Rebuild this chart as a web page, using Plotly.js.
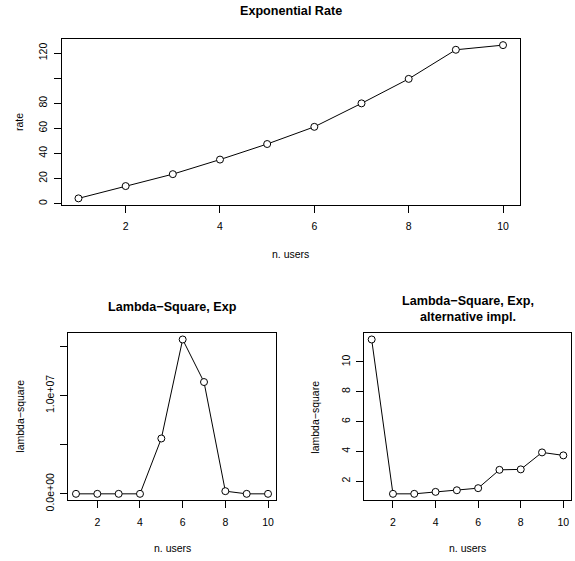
<!DOCTYPE html>
<html>
<head>
<meta charset="utf-8">
<script src="https://cdn.plot.ly/plotly-3.0.1.min.js"></script>
<style>html,body{margin:0;padding:0;background:#fff;}#chart{width:575px;height:561px;}</style>
</head>
<body>
<div id="chart"></div>
<script>
// ---- data ----
const users = [1, 2, 3, 4, 5, 6, 7, 8, 9, 10];
const rate = [4.2, 14.0, 23.5, 35.1, 47.5, 61.2, 79.9, 99.4, 122.6, 126.3];
const lambdaSqExp = [0, 0, 0, 0, 5.63e6, 15.70e6, 11.37e6, 0.27e6, 0, 0];
const lambdaSqAlt = [11.51, 1.15, 1.15, 1.28, 1.39, 1.53, 2.76, 2.79, 3.93, 3.73];

const xTickVals = [2, 4, 6, 8, 10];
const xTickText = ["2", "4", "6", "8", "10"];
const rateTickVals = [0, 20, 40, 60, 80, 100, 120];
const rateTickText = ["0", "20", "40", "60", "80", "", "120"];
const expTickVals = [0, 5e6, 1e7, 1.5e7];
const expTickText = ["0.0e+00", "", "1.0e+07", ""];
const altTickVals = [2, 4, 6, 8, 10];
const altTickText = ["2", "4", "6", "8", "10"];

const titleTop = "Exponential Rate";
const titleLeft = "Lambda\u2212Square, Exp";
const titleRight = "Lambda\u2212Square, Exp,<br>alternative impl.";
const xLabel = "n. users";
const yLabelTop = "rate";
const yLabelBottom = "lambda\u2212square";

// ---- helpers ----
const W = 575, H = 561;
const FONT = "Liberation Sans, Arial, Helvetica, sans-serif";
function rng(a) {
  const mn = Math.min(...a), mx = Math.max(...a), d = mx - mn;
  return [mn - 0.04 * d, mx + 0.04 * d];
}
function px(x) { return x / W; }
function py(y) { return 1 - y / H; }

// panel boxes in pixels [left, right, top, bottom]
const boxTop = [61.5, 520, 39, 204.5];
const boxBL = [68.3, 275.7, 333.3, 500];
const boxBR = [364, 571, 333.3, 500];

function axisBase() {
  return {
    showline: true, mirror: true, linecolor: "black", linewidth: 1,
    ticks: "outside", ticklen: 7, tickwidth: 1, tickcolor: "black",
    showgrid: false, zeroline: false,
    tickfont: { family: FONT, size: 10.5, color: "black" },
    tickmode: "array"
  };
}
function xa(box, anchor) {
  return Object.assign(axisBase(), {
    domain: [px(box[0]), px(box[1])], anchor: anchor,
    range: rng(users), tickvals: xTickVals, ticktext: xTickText,
    ticklabelstandoff: 5
  });
}
function ya(box, anchor, data, tv, tt) {
  return Object.assign(axisBase(), {
    domain: [py(box[3]), py(box[2])], anchor: anchor,
    range: rng(data), tickvals: tv, ticktext: tt, tickangle: -90,
    ticklabelstandoff: 2
  });
}

function trace(y, xa_, ya_) {
  return {
    x: users, y: y, xaxis: xa_, yaxis: ya_, type: "scatter", mode: "lines+markers",
    line: { color: "black", width: 1 },
    marker: { symbol: "circle", size: 7, color: "white", line: { color: "black", width: 1 } },
    hoverinfo: "none", cliponaxis: false
  };
}

const data = [
  trace(rate, "x", "y"),
  trace(lambdaSqExp, "x2", "y2"),
  trace(lambdaSqAlt, "x3", "y3")
];

function ann(text, x, y, size, bold, angle) {
  return {
    text: bold ? "<b>" + text + "</b>" : text,
    xref: "paper", yref: "paper", x: px(x), y: py(y),
    xanchor: "center", yanchor: "middle", showarrow: false,
    textangle: angle || 0,
    font: { family: FONT, size: size, color: "black" }
  };
}
const cx = b => (b[0] + b[1]) / 2;
const cy = b => (b[2] + b[3]) / 2;

const layout = {
  width: W, height: H,
  margin: { l: 0, r: 0, t: 0, b: 0, pad: 0 },
  paper_bgcolor: "white", plot_bgcolor: "white",
  showlegend: false,
  xaxis: xa(boxTop, "y"),
  yaxis: ya(boxTop, "x", rate, rateTickVals, rateTickText),
  xaxis2: xa(boxBL, "y2"),
  yaxis2: ya(boxBL, "x2", lambdaSqExp, expTickVals, expTickText),
  xaxis3: xa(boxBR, "y3"),
  yaxis3: ya(boxBR, "x3", lambdaSqAlt, altTickVals, altTickText),
  annotations: [
    ann(titleTop, cx(boxTop), 11, 12.6, true),
    ann(titleLeft, cx(boxBL), 306.5, 12.6, true),
    ann(titleRight, cx(boxBR), 308.5, 12.6, true),
    ann(xLabel, cx(boxTop), 254, 10.5, false),
    ann(xLabel, cx(boxBL), 548.3, 10.5, false),
    ann(xLabel, cx(boxBR), 548.3, 10.5, false),
    ann(yLabelTop, 18.3, cy(boxTop), 10.5, false, -90),
    ann(yLabelBottom, 20, cy(boxBL), 10.5, false, -90),
    ann(yLabelBottom, 315, cy(boxBR), 10.5, false, -90)
  ]
};

Plotly.newPlot("chart", data, layout, { staticPlot: true, displayModeBar: false });
</script>
</body>
</html>
